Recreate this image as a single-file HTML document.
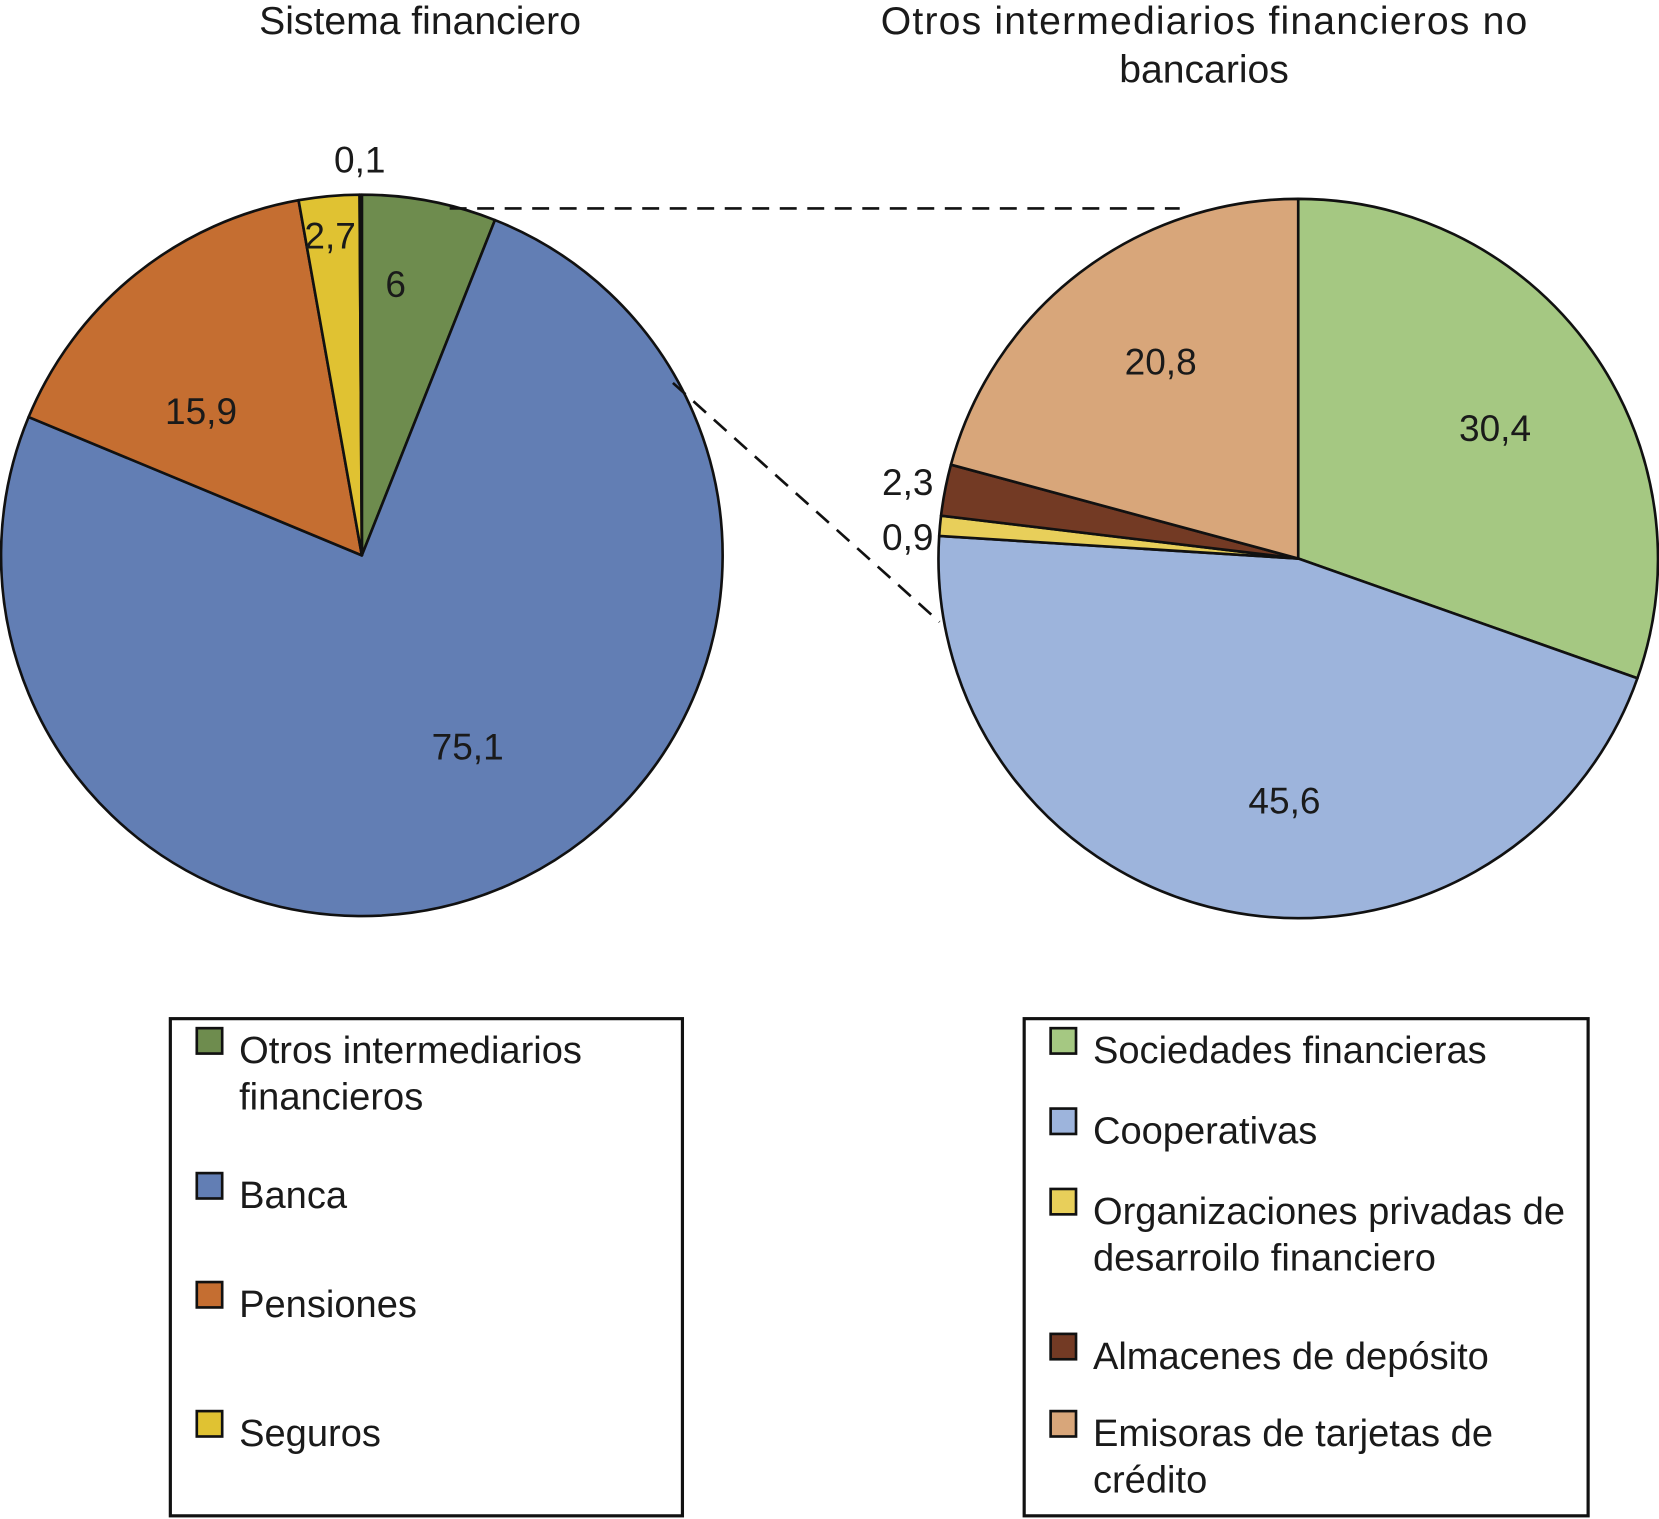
<!DOCTYPE html>
<html><head><meta charset="utf-8"><style>
html,body{margin:0;padding:0;background:#fff}
svg{display:block}
text{font-family:"Liberation Sans",sans-serif;fill:#1a1a1a}
</style></head><body>
<svg id="chart" width="1659" height="1519" viewBox="0 0 1568 1436" preserveAspectRatio="none" xmlns="http://www.w3.org/2000/svg">
<text x="397" y="32" font-size="37" text-anchor="middle">Sistema financiero</text>
<text x="1138" y="32" font-size="37" text-anchor="middle" textLength="611">Otros intermediarios financieros no</text>
<text x="1138" y="78" font-size="37" text-anchor="middle">bancarios</text>
<g id="leftPie"></g><g id="rightPie"></g>
<line x1="425" y1="197" x2="1115" y2="197" stroke="#111" stroke-width="2.5" stroke-dasharray="16,10"/>
<line x1="636" y1="362" x2="888" y2="588" stroke="#111" stroke-width="2.5" stroke-dasharray="16,10"/>
<g id="labels"></g>
<rect x="161" y="963" width="484" height="470" fill="#fff" stroke="#111" stroke-width="3"/>
<rect x="968" y="963" width="533" height="470" fill="#fff" stroke="#111" stroke-width="3"/>
<g id="legends"></g>
</svg>
<script>
const leftCats=["Otros intermediarios financieros","Banca","Pensiones","Seguros","Otros"];
const leftVals=[6,75.1,15.9,2.7,0.1];
const leftColors=["#6e8c4e","#627eb4","#c56e31","#e0c232","#f4f4f4"];
const rightCats=["Sociedades financieras","Cooperativas","Organizaciones privadas de desarroilo financiero","Almacenes de depósito","Emisoras de tarjetas de crédito"];
const rightVals=[30.4,45.6,0.9,2.3,20.8];
const rightColors=["#a5c882","#9db4dc","#e8cf5a","#733a24","#d8a67a"];
const leftLabels=["6","75,1","15,9","2,7","0,1"];
const rightLabels=["30,4","45,6","0,9","2,3","20,8"];
const NS="http://www.w3.org/2000/svg";
function mk(t,a,p){const e=document.createElementNS(NS,t);for(const k in a)e.setAttribute(k,a[k]);p.appendChild(e);return e;}
function drawPie(g,cx,cy,r,vals,colors,name){
  const tot=vals.reduce((a,b)=>a+b,0);let a0=0;
  vals.forEach((v,i)=>{
    const a1=a0+v/tot*2*Math.PI;
    const x0=cx+r*Math.sin(a0),y0=cy-r*Math.cos(a0),x1=cx+r*Math.sin(a1),y1=cy-r*Math.cos(a1);
    const p=mk("path",{d:`M${cx},${cy}L${x0},${y0}A${r},${r} 0 ${a1-a0>Math.PI?1:0} 1 ${x1},${y1}Z`,fill:colors[i],stroke:"#111","stroke-width":2.5,"stroke-linejoin":"round"},g);
    
    
    a0=a1;
  });
}
drawPie(document.getElementById("leftPie"),342,525,341,leftVals,leftColors,"left");
drawPie(document.getElementById("rightPie"),1227,528,340,rightVals,rightColors,"right");
const lg=document.getElementById("labels");
const lPos=[[374,281],[442,718],[190,401],[312,235],[340,163]];
const rPos=[[1413,417],[1214,769],[858,520],[858,468],[1097,354]];
function lab(arr,pos,n){arr.forEach((s,i)=>{const t=mk("text",{x:pos[i][0],y:pos[i][1],"font-size":35,"text-anchor":"middle"},lg);t.textContent=s;

});}
lab(leftLabels,lPos,"left");lab(rightLabels,rPos,"right");
const leg=document.getElementById("legends");
function legend(cats,colors,x,ys,n){cats.forEach((c,i)=>{
  const r=mk("rect",{x:x,y:ys[i]-22,width:24,height:24,fill:colors[i],stroke:"#111","stroke-width":2.5},leg);
  
  
  const words=c.split(" ");let lines=[c];
  if(c.length>26){let l1="",j=0;while(j<words.length&&(l1+" "+words[j]).trim().length<=28){l1=(l1+" "+words[j]).trim();j++;}lines=[l1,words.slice(j).join(" ")];}
  lines.forEach((ln,k)=>{const t=mk("text",{x:x+40,y:ys[i]+11+k*44,"font-size":36},leg);t.textContent=ln;
  
  });
});}
legend(leftCats.slice(0,4),leftColors,186,[994,1131,1234,1356],"left");
legend(rightCats,rightColors,993,[994,1070,1146,1283,1356],"right");
</script>
</body></html>
